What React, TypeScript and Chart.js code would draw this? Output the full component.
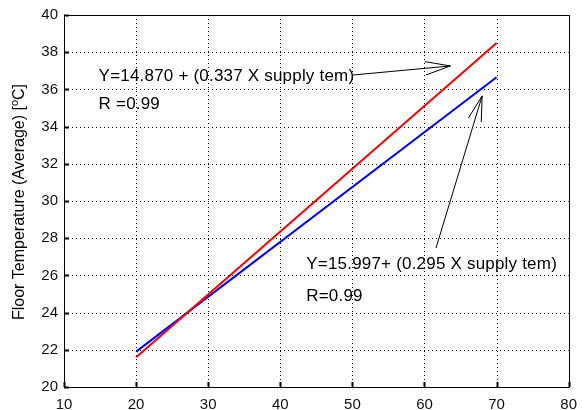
import React, { useEffect, useRef } from "react";
import { Chart, registerables } from "chart.js";

Chart.register(...registerables);

// Data
const supplyTemp = [20, 70];
const redFloor = [21.6, 38.5];
const blueFloor = [21.9, 36.65];

const xTickValues = [10, 20, 30, 40, 50, 60, 70, 80];
const yTickValues = [20, 22, 24, 26, 28, 30, 32, 34, 36, 38, 40];

const eq1Text = "Y=14.870 + (0.337 X supply tem)";
const r1Text = "R =0.99";
const eq2Text = "Y=15.997+ (0.295 X supply tem)";
const r2Text = "R=0.99";

// annotation anchors in data units [x, y]
const eq1Pos = [14.8, 36.7];
const r1Pos = [14.8, 35.22];
const eq2Pos = [43.6, 26.61];
const r2Pos = [43.6, 24.89];
const arrow1 = [[50.0, 36.77], [63.6, 37.26]];
const arrow2 = [[61.6, 27.47], [68.0, 35.65]];

const FONT = "'Liberation Sans', Arial, Helvetica, sans-serif";

function drawArrow(ctx: CanvasRenderingContext2D, x1: number, y1: number, x2: number, y2: number) {
  const ang = Math.atan2(y2 - y1, x2 - x1);
  const len = 26;
  const spread = 0.26;
  ctx.beginPath();
  ctx.moveTo(x1, y1);
  ctx.lineTo(x2, y2);
  ctx.moveTo(x2 - len * Math.cos(ang - spread), y2 - len * Math.sin(ang - spread));
  ctx.lineTo(x2, y2);
  ctx.lineTo(x2 - len * Math.cos(ang + spread), y2 - len * Math.sin(ang + spread));
  ctx.stroke();
}

const decorPlugin = {
  id: "decor",
  beforeDatasetsDraw(chart: any) {
    const ctx: CanvasRenderingContext2D = chart.ctx;
    const area = chart.chartArea;
    const xs = chart.scales.x;
    const ys = chart.scales.y;
    ctx.save();
    ctx.strokeStyle = "#000";
    ctx.lineWidth = 1;
    ctx.setLineDash([1, 3]);
    xTickValues.forEach((v) => {
      const px = Math.round(xs.getPixelForValue(v)) + 0.5;
      ctx.beginPath();
      ctx.moveTo(px, area.top);
      ctx.lineTo(px, area.bottom);
      ctx.stroke();
    });
    yTickValues.forEach((v) => {
      const py = Math.round(ys.getPixelForValue(v)) + 0.5;
      ctx.beginPath();
      ctx.moveTo(area.left, py);
      ctx.lineTo(area.right, py);
      ctx.stroke();
    });
    ctx.restore();
  },
  afterDraw(chart: any) {
    const ctx: CanvasRenderingContext2D = chart.ctx;
    const area = chart.chartArea;
    const xs = chart.scales.x;
    const ys = chart.scales.y;
    ctx.save();
    // frame
    ctx.strokeStyle = "#000";
    ctx.lineWidth = 1;
    ctx.setLineDash([]);
    ctx.strokeRect(Math.round(area.left) + 0.5, Math.round(area.top) + 0.5,
      Math.round(area.right - area.left), Math.round(area.bottom - area.top));
    // inward ticks
    ctx.lineWidth = 2;
    xTickValues.forEach((v) => {
      const px = Math.round(xs.getPixelForValue(v)) + 0.5;
      ctx.beginPath();
      ctx.moveTo(px, area.bottom);
      ctx.lineTo(px, area.bottom - 5);
      ctx.stroke();
    });
    yTickValues.forEach((v) => {
      const py = Math.round(ys.getPixelForValue(v)) + 0.5;
      ctx.beginPath();
      ctx.moveTo(area.left, py);
      ctx.lineTo(area.left + 5, py);
      ctx.stroke();
    });
    // annotation text
    ctx.fillStyle = "#000";
    ctx.font = `17px ${FONT}`;
    (ctx as any).letterSpacing = "0.2px";
    ctx.textBaseline = "middle";
    ctx.textAlign = "left";
    const put = (t: string, p: number[]) =>
      ctx.fillText(t, xs.getPixelForValue(p[0]), ys.getPixelForValue(p[1]));
    put(eq1Text, eq1Pos);
    put(r1Text, r1Pos);
    put(eq2Text, eq2Pos);
    put(r2Text, r2Pos);
    (ctx as any).letterSpacing = "0px";
    // arrows
    ctx.lineWidth = 1;
    [arrow1, arrow2].forEach((a) => {
      drawArrow(ctx, xs.getPixelForValue(a[0][0]), ys.getPixelForValue(a[0][1]),
        xs.getPixelForValue(a[1][0]), ys.getPixelForValue(a[1][1]));
    });
    // y axis title with superscript
    const cy = (area.top + area.bottom) / 2 + 1;
    ctx.translate(24, cy);
    ctx.rotate(-Math.PI / 2);
    ctx.textBaseline = "alphabetic";
    const main = `16px ${FONT}`;
    const sup = `11px ${FONT}`;
    const p1 = "Floor Temperature (Average) [";
    const p2 = "o";
    const p3 = "C]";
    ctx.font = main;
    const w1 = ctx.measureText(p1).width;
    const w3 = ctx.measureText(p3).width;
    ctx.font = sup;
    const w2 = ctx.measureText(p2).width;
    let x = -(w1 + w2 + w3) / 2;
    ctx.font = main;
    ctx.fillText(p1, x, 0);
    x += w1;
    ctx.font = sup;
    ctx.fillText(p2, x, -6);
    x += w2;
    ctx.font = main;
    ctx.fillText(p3, x, 0);
    ctx.restore();
  },
};

export default function App() {
  const ref = useRef<HTMLCanvasElement | null>(null);
  useEffect(() => {
    if (!ref.current) return;
    const chart = new Chart(ref.current, {
      type: "line",
      data: {
        datasets: [
          {
            label: "red",
            data: supplyTemp.map((x, i) => ({ x, y: redFloor[i] })),
            borderColor: "#ff0000",
            borderWidth: 2,
            pointRadius: 0,
            fill: false,
            tension: 0,
          },
          {
            label: "blue",
            data: supplyTemp.map((x, i) => ({ x, y: blueFloor[i] })),
            borderColor: "#0000ff",
            borderWidth: 2,
            pointRadius: 0,
            fill: false,
            tension: 0,
          },
        ],
      },
      options: {
        animation: false,
        responsive: false,
        maintainAspectRatio: false,
        layout: { padding: { top: 15, right: 9, left: 0, bottom: 0 } },
        plugins: { legend: { display: false }, tooltip: { enabled: false }, title: { display: false } },
        scales: {
          x: {
            type: "linear",
            min: 10,
            max: 80,
            afterBuildTicks: (s: any) => { s.ticks = xTickValues.map((v) => ({ value: v })); },
            afterFit: (s: any) => { s.height = 23; },
            ticks: { color: "#111", font: { family: FONT, size: 15 }, padding: 9, maxRotation: 0 },
            grid: { display: false, drawTicks: false },
            border: { display: false },
          },
          y: {
            type: "linear",
            min: 20,
            max: 40,
            afterBuildTicks: (s: any) => { s.ticks = yTickValues.map((v) => ({ value: v })); },
            afterFit: (s: any) => { s.width = 64; },
            ticks: { color: "#111", font: { family: FONT, size: 15 }, padding: 6 },
            grid: { display: false, drawTicks: false },
            border: { display: false },
          },
        },
      },
      plugins: [decorPlugin],
    } as any);
    return () => chart.destroy();
  }, []);
  return (
    <div style={{ position: "fixed", left: 0, top: 0, width: 586, height: 410, background: "#fff" }}>
      <canvas ref={ref} width={586} height={410} style={{ display: "block" }} />
    </div>
  );
}
